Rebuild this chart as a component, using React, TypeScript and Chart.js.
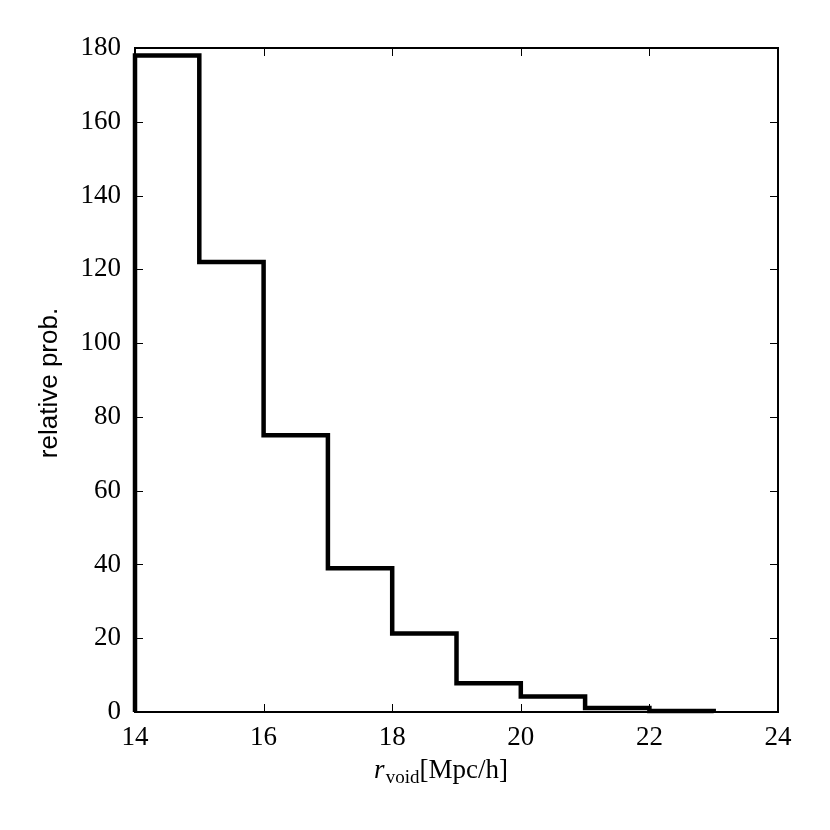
import React, { useEffect, useRef } from "react";
import { Chart, registerables } from "chart.js";

Chart.register(...registerables);

const binEdges = [14, 15, 16, 17, 18, 19, 20, 21, 22, 23];
const counts = [178, 122, 75, 39, 21.3, 7.8, 4.2, 1.1, 0.3];
const xTicks = [14, 16, 18, 20, 22, 24];
const yTicks = [0, 20, 40, 60, 80, 100, 120, 140, 160, 180];
const yTitle = "relative prob.";
const xTitleMain = "r";
const xTitleSub = "void";
const xTitleRest = "[Mpc/h]";

const SERIF = "'Liberation Serif', 'DejaVu Serif', serif";
const SANS = "'Liberation Sans', Arial, sans-serif";

export default function App() {
  const ref = useRef<HTMLCanvasElement | null>(null);
  useEffect(() => {
    if (!ref.current) return;
    const pts: { x: number; y: number }[] = [{ x: binEdges[0], y: 0 }];
    counts.forEach((c, i) => pts.push({ x: binEdges[i], y: c }));
    pts.push({ x: binEdges[binEdges.length - 1], y: counts[counts.length - 1] });
    pts.push({ x: binEdges[binEdges.length - 1], y: 0 });

    const framePlugin = {
      id: "frame",
      afterDraw(chart: any) {
        const { ctx, chartArea: a, scales } = chart;
        ctx.save();
        ctx.strokeStyle = "#000";
        ctx.lineWidth = 1;
        const tl = 8;
        xTicks.forEach((v) => {
          const px = Math.round(scales.x.getPixelForValue(v)) + 0.5;
          ctx.beginPath();
          ctx.moveTo(px, a.bottom);
          ctx.lineTo(px, a.bottom - tl);
          ctx.moveTo(px, a.top);
          ctx.lineTo(px, a.top + tl);
          ctx.stroke();
        });
        yTicks.forEach((v) => {
          const py = Math.round(scales.y.getPixelForValue(v)) + 0.5;
          ctx.beginPath();
          ctx.moveTo(a.left, py);
          ctx.lineTo(a.left + tl, py);
          ctx.moveTo(a.right, py);
          ctx.lineTo(a.right - tl, py);
          ctx.stroke();
        });
        ctx.lineWidth = 2;
        ctx.strokeRect(a.left, a.top, a.right - a.left, a.bottom - a.top);

        // y title
        ctx.fillStyle = "#000";
        ctx.font = `26px ${SANS}`;
        ctx.textAlign = "center";
        ctx.textBaseline = "middle";
        ctx.save();
        ctx.translate(50, (a.top + a.bottom) / 2 + 3);
        ctx.rotate(-Math.PI / 2);
        ctx.fillText(yTitle, 0, 0);
        ctx.restore();

        // x title with subscript
        ctx.textAlign = "left";
        ctx.textBaseline = "alphabetic";
        const fMain = `italic 27px ${SERIF}`;
        const fSub = `19px ${SERIF}`;
        const fRest = `27px ${SERIF}`;
        ctx.font = fMain;
        const w1 = ctx.measureText(xTitleMain).width;
        ctx.font = fSub;
        const w2 = ctx.measureText(xTitleSub).width;
        ctx.font = fRest;
        const w3 = ctx.measureText(xTitleRest).width;
        const total = w1 + 1 + w2 + w3;
        let x = 441 - total / 2;
        const base = 778;
        ctx.font = fMain;
        ctx.fillText(xTitleMain, x, base);
        x += w1 + 1;
        ctx.font = fSub;
        ctx.fillText(xTitleSub, x, base + 5);
        x += w2;
        ctx.font = fRest;
        ctx.fillText(xTitleRest, x, base);
        ctx.restore();
      },
    };

    const chart = new Chart(ref.current, {
      type: "line",
      data: {
        datasets: [
          {
            data: pts,
            stepped: "before",
            borderColor: "#000",
            borderWidth: 4.5,
            pointRadius: 0,
            fill: false,
            clip: false as any,
            borderCapStyle: "butt",
            borderJoinStyle: "miter",
          } as any,
        ],
      },
      options: {
        responsive: false,
        animation: false,
        events: [],
        layout: { padding: { left: 0, top: 48, right: 52, bottom: 0 } },
        plugins: { legend: { display: false }, tooltip: { enabled: false } },
        scales: {
          x: {
            type: "linear",
            min: 14,
            max: 24,
            afterBuildTicks: (s: any) => {
              s.ticks = xTicks.map((v) => ({ value: v }));
            },
            afterFit: (s: any) => {
              s.height = 118;
            },
            grid: { display: false, drawTicks: false },
            border: { display: false },
            ticks: {
              color: "#000",
              font: { family: SERIF, size: 27 },
              padding: 10,
              maxRotation: 0,
              autoSkip: false,
            },
          },
          y: {
            type: "linear",
            min: 0,
            max: 180,
            afterBuildTicks: (s: any) => {
              s.ticks = yTicks.map((v) => ({ value: v }));
            },
            afterFit: (s: any) => {
              s.width = 135;
            },
            grid: { display: false, drawTicks: false },
            border: { display: false },
            ticks: {
              color: "#000",
              font: { family: SERIF, size: 27 },
              padding: 14,
              autoSkip: false,
            },
          },
        },
      },
      plugins: [framePlugin],
    });
    return () => chart.destroy();
  }, []);

  return (
    <div style={{ position: "absolute", left: 0, top: 0, width: 830, height: 830, background: "#fff" }}>
      <canvas ref={ref} width={830} height={830} style={{ width: 830, height: 830 }} />
    </div>
  );
}
